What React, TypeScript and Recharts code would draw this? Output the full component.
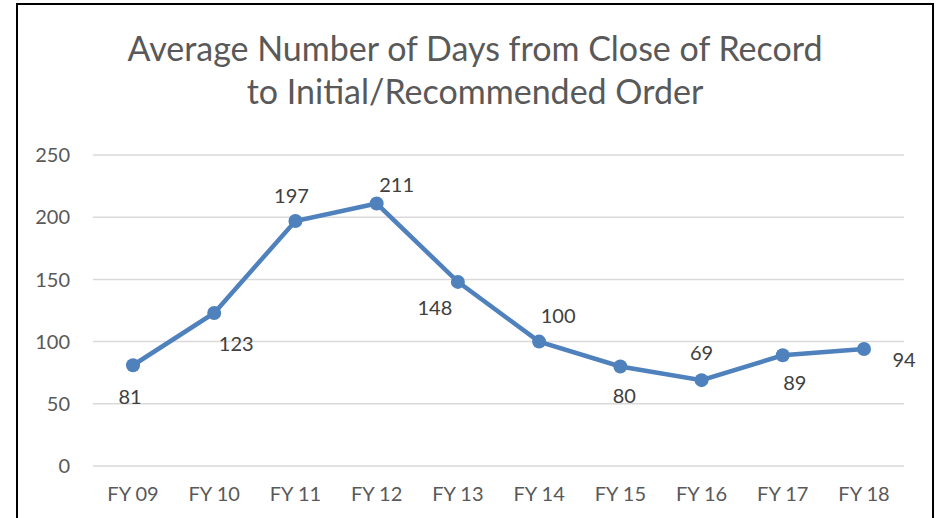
import { LineChart, Line, XAxis, YAxis, CartesianGrid, LabelList } from "recharts";

const years = ["FY 09", "FY 10", "FY 11", "FY 12", "FY 13", "FY 14", "FY 15", "FY 16", "FY 17", "FY 18"];
const avgDays = [81, 123, 197, 211, 148, 100, 80, 69, 89, 94];
const yTicks = [0, 50, 100, 150, 200, 250];

// where each data label sits relative to its point (Excel puts them by hand)
const labelNudge: [number, number][] = [
  [-3, 31], [22, 30], [-4, -26], [20, -20], [-23, 25],
  [19, -27], [4, 29], [0, -28], [12, 27], [40, 10],
];

const data = years.map((year, i) => ({ year, days: avgDays[i] }));

const FONT = "Lato, 'Open Sans', sans-serif";

function DataLabel(props: any) {
  const { x, y, value, index } = props;
  const [dx, dy] = labelNudge[index] ?? [0, -20];
  return (
    <text
      x={x + dx}
      y={y + dy}
      textAnchor="middle"
      dominantBaseline="central"
      fontFamily={FONT}
      fontSize={20}
      fill="#404040"
    >
      {value}
    </text>
  );
}

export default function App() {
  return (
    <div
      style={{
        position: "fixed",
        left: 0,
        top: 0,
        width: 942,
        height: 518,
        overflow: "hidden",
        background: "#fff",
      }}
    >
      <div
        style={{
          position: "absolute",
          left: 16,
          top: 3,
          width: 914,
          height: 540,
          border: "2px solid #000",
        }}
      />
      <div
        style={{
          position: "absolute",
          left: 16,
          top: 26,
          width: 918,
          textAlign: "center",
          fontFamily: FONT,
          fontSize: 34,
          lineHeight: "43px",
          color: "#595959",
        }}
      >
        Average Number of Days from Close of Record
        <br />
        to Initial/Recommended Order
      </div>
      <div style={{ position: "absolute", left: 0, top: 0 }}>
        <LineChart
          width={942}
          height={518}
          data={data}
          margin={{ top: 155, right: 38, bottom: 22, left: 33 }}
        >
          <CartesianGrid vertical={false} stroke="#d9d9d9" strokeWidth={1.5} />
          <XAxis
            dataKey="year"
            height={30}
            axisLine={false}
            tickLine={false}
            tickSize={0}
            tickMargin={21}
            padding={{ left: 40, right: 40 }}
            tick={{ fontFamily: FONT, fontSize: 20, fill: "#595959" }}
            interval={0}
          />
          <YAxis
            width={60}
            domain={[0, 250]}
            ticks={yTicks}
            axisLine={false}
            tickLine={false}
            tickSize={0}
            tickMargin={23}
            tick={{ fontFamily: FONT, fontSize: 20, fill: "#595959" }}
          />
          <Line
            type="linear"
            dataKey="days"
            stroke="#4f81bd"
            strokeWidth={4.5}
            dot={{ r: 7, fill: "#4f81bd", stroke: "#4f81bd", strokeWidth: 0 }}
            isAnimationActive={false}
          >
            <LabelList dataKey="days" content={DataLabel} />
          </Line>
        </LineChart>
      </div>
    </div>
  );
}
